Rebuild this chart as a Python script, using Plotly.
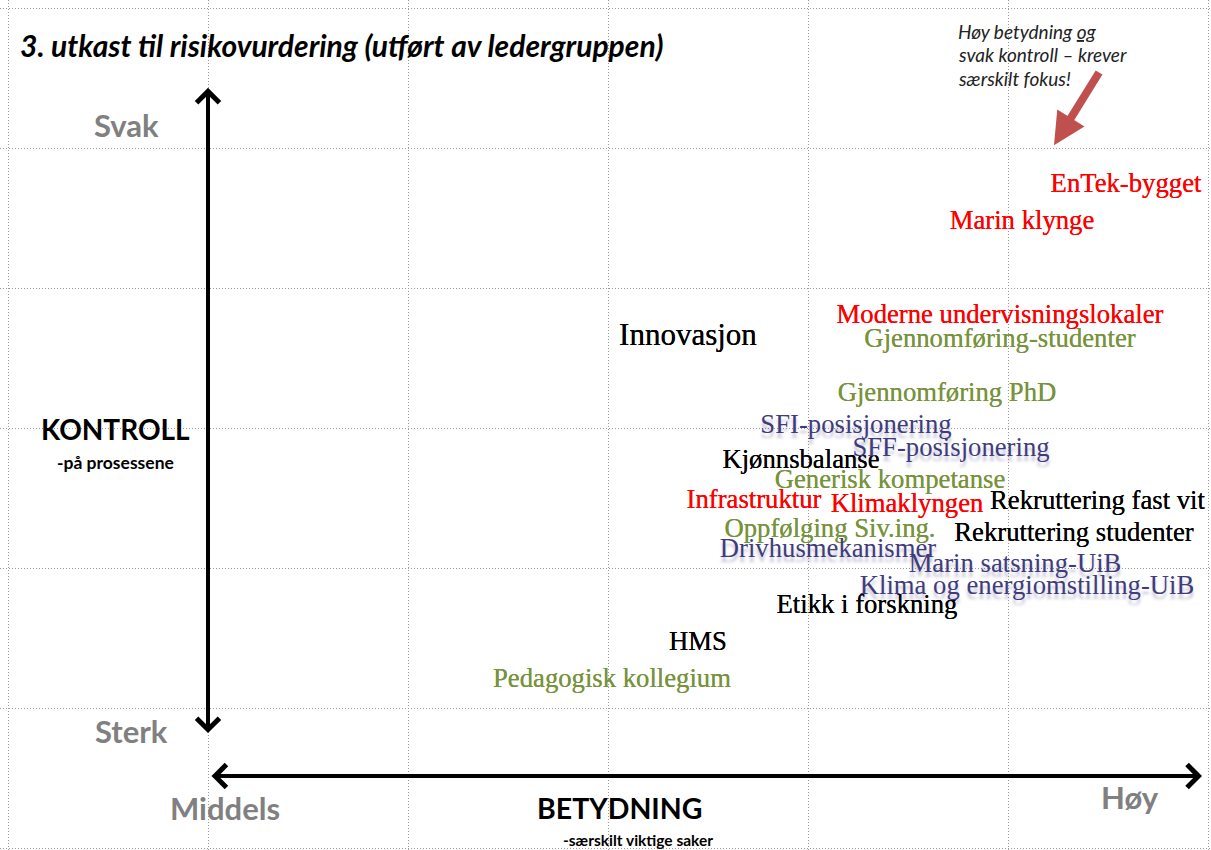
import plotly.graph_objects as go

# ---- data -------------------------------------------------------------
names = [
    "EnTek-bygget", "Marin klynge", "Moderne undervisningslokaler",
    "Gjennomføring-studenter", "Innovasjon", "Gjennomføring PhD",
    "SFI-posisjonering", "SFF-posisjonering", "Kjønnsbalanse",
    "Generisk kompetanse", "Infrastruktur", "Klimaklyngen",
    "Rekruttering fast vit", "Oppfølging Siv.ing.", "Rekruttering studenter",
    "Drivhusmekanismer", "Marin satsning-UiB", "Klima og energiomstilling-UiB",
    "Etikk i forskning", "HMS", "Pedagogisk kollegium",
]
# betydning (importance, 0 = middels ... 5 = høy)
betydning = [4.59, 4.07, 3.96, 3.96, 2.40, 3.695, 3.24, 3.715, 2.965, 3.41,
             2.73, 3.495, 3.91, 3.11, 4.33, 3.10, 4.035, 4.095, 3.295, 2.45, 2.02]
# kontroll (control weakness, 0 = sterk ... 5 = svak)
kontroll = [3.736, 3.471, 2.80, 2.629, 2.65, 2.243, 2.014, 1.85, 1.764, 1.621,
            1.479, 1.45, 1.471, 1.271, 1.243, 1.129, 1.021, 0.864, 0.729, 0.464, 0.2]
gruppe = ["rod", "rod", "rod", "gronn", "svart", "gronn", "lilla", "lilla", "svart",
          "gronn", "rod", "rod", "svart", "gronn", "svart", "lilla", "lilla", "lilla",
          "svart", "svart", "gronn"]

farger = {"rod": "#FF0000", "gronn": "#77933C", "lilla": "#403C7C", "svart": "#000000"}
skygger = {"rod": "0px 0px 0.6px #FF0000", "gronn": "0px 0px 0.6px #77933C",
           "svart": "0px 0px 0.6px #000000",
           "lilla": "0px 5px 3px rgba(64,60,124,0.30)"}

# ---- figure -----------------------------------------------------------
W, H = 1211, 850
fig = go.Figure()

for g in ["svart", "gronn", "rod", "lilla"]:
    idx = [i for i, gg in enumerate(gruppe) if gg == g]
    fig.add_trace(go.Scatter(
        x=[betydning[i] for i in idx],
        y=[kontroll[i] for i in idx],
        text=[names[i] for i in idx],
        mode="text",
        textposition=["middle right" if names[i].startswith("Rekruttering fast") else "middle center" for i in idx],
        textfont=dict(family="Liberation Serif", color=farger[g], shadow=skygger[g],
                      size=[31 if names[i] == "Innovasjon" else 26.7 for i in idx]),
        hoverinfo="skip",
        showlegend=False,
        cliponaxis=False,
    ))

def px(xp):
    return xp / W

def py(yp):
    return 1 - yp / H

ann = []
# title
ann.append(dict(xref="paper", yref="paper", x=px(18), y=py(45), xanchor="left", yanchor="middle",
                text="<b><i>3. utkast til risikovurdering (utført av ledergruppen)</i></b>",
                showarrow=False, font=dict(family="Lato", size=30, color="#000000")))
# note
for t, yy in [("Høy betydning <u>og</u>", 32), ("svak kontroll – krever", 55), ("særskilt fokus!", 78)]:
    ann.append(dict(xref="paper", yref="paper", x=px(956), y=py(yy), xanchor="left", yanchor="middle",
                    text="<i>" + t + "</i>", showarrow=False,
                    font=dict(family="Lato", size=19, color="#222222")))
# gray scale labels
for t, xx, yy in [("Svak", 126, 125), ("Sterk", 131, 731), ("Middels", 225, 808), ("Høy", 1130, 797)]:
    ann.append(dict(xref="paper", yref="paper", x=px(xx), y=py(yy), xanchor="center", yanchor="middle",
                    text="<b>" + t + "</b>", showarrow=False,
                    font=dict(family="Lato", size=31, color="#808080")))
# axis titles
for t, s, xx, yy in [("KONTROLL", 28, 115, 429), ("-på prosessene", 17.5, 115, 462),
                     ("BETYDNING", 28.5, 620, 808), ("-særskilt viktige saker", 15.5, 638, 840)]:
    ann.append(dict(xref="paper", yref="paper", x=px(xx), y=py(yy), xanchor="center", yanchor="middle",
                    text="<b>" + t + "</b>", showarrow=False,
                    font=dict(family="Lato", size=s, color="#000000")))

# axis arrows (double headed)
ann.append(dict(xref="x", yref="y", axref="x", ayref="y", x=0, y=4.43, ax=0, ay=-0.19,
                text="", showarrow=True, arrowhead=4, startarrowhead=4, arrowside="end+start",
                arrowwidth=4, arrowsize=1.1, startarrowsize=1.1, arrowcolor="#000000"))
ann.append(dict(xref="x", yref="y", axref="x", ayref="y", x=4.97, y=-0.486, ax=0.01, ay=-0.486,
                text="", showarrow=True, arrowhead=4, startarrowhead=4, arrowside="end+start",
                arrowwidth=4, arrowsize=1.1, startarrowsize=1.1, arrowcolor="#000000"))
# red pointer arrow
ann.append(dict(xref="x", yref="y", axref="x", ayref="y", x=4.23, y=4.02, ax=4.46, ay=4.55,
                text="", showarrow=True, arrowhead=2, arrowwidth=8, arrowsize=0.8,
                arrowcolor="#C0504D"))

grid = dict(dtick=1, tick0=0, showgrid=True, gridcolor="#9a9a9a", griddash="1px,2px", gridwidth=1,
            zeroline=False, showticklabels=False, ticks="", showline=False, fixedrange=True)

fig.update_layout(
    width=W, height=H, autosize=False,
    margin=dict(l=0, r=0, t=0, b=0),
    paper_bgcolor="white", plot_bgcolor="white",
    annotations=ann,
    xaxis=dict(range=[-208 / 200, (W - 208) / 200], **grid),
    yaxis=dict(range=[(708 - H) / 140, 708 / 140], **grid),
)

fig.write_html("out.html", config={"displayModeBar": False},
               post_script="document.body.style.margin='0px';document.body.style.overflow='hidden';")
